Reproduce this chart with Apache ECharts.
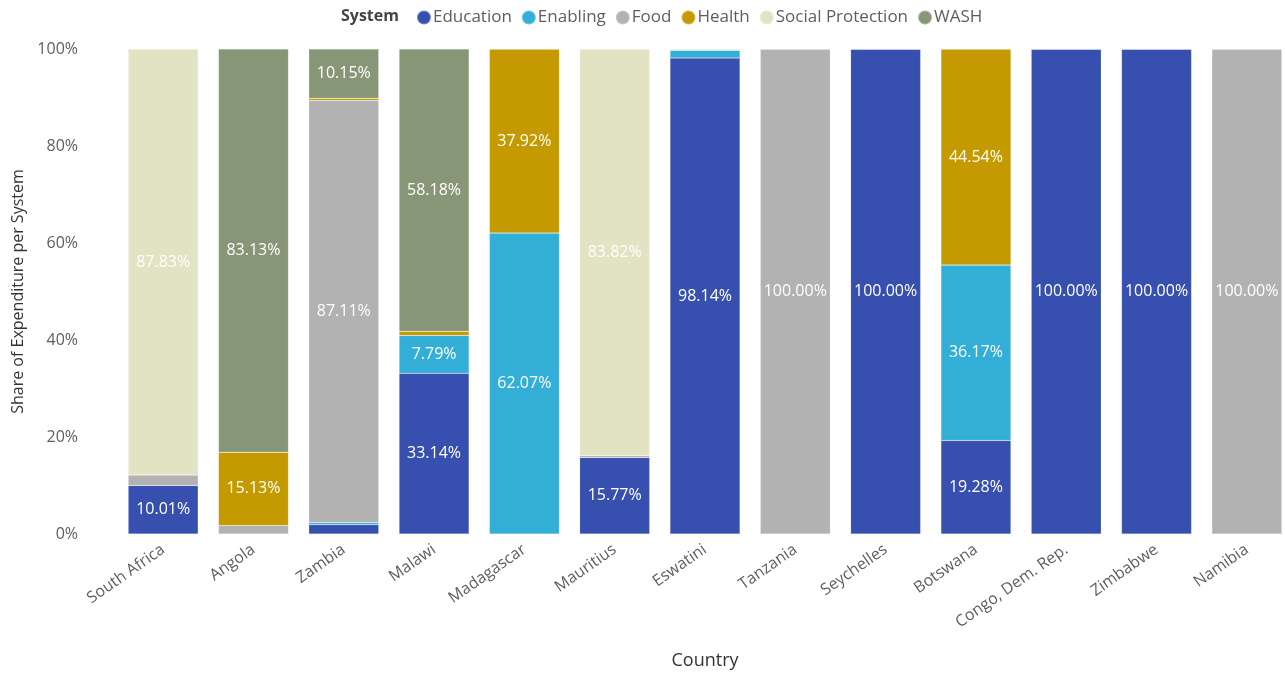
<!DOCTYPE html>
<html>
<head>
<meta charset="utf-8">
<script src="https://cdn.jsdelivr.net/npm/echarts@6/dist/echarts.min.js"></script>
<style>
  html, body { margin: 0; padding: 0; background: #ffffff; }
  #chart { width: 1285px; height: 675px; }
</style>
</head>
<body>
<div id="chart"></div>
<script>
// Countries along the x axis
const countries = ['South Africa', 'Angola', 'Zambia', 'Malawi', 'Madagascar', 'Mauritius',
  'Eswatini', 'Tanzania', 'Seychelles', 'Botswana', 'Congo, Dem. Rep.', 'Zimbabwe', 'Namibia'];

// Share of expenditure (%) per system, one array per system
const education        = [10.01, 0,     1.90,  33.14, 0,     15.77, 98.14, 0,      100.00, 19.28, 100.00, 100.00, 0];
const enabling         = [0,     0,     0.40,  7.79,  62.07, 0,     1.60,  0,      0,      36.17, 0,      0,      0];
const food             = [2.16,  1.74,  87.11, 0,     0,     0.41,  0,     100.00, 0,      0,     0,      0,      100.00];
const health           = [0,     15.13, 0.44,  0.89,  37.92, 0,     0,     0,      0,      44.54, 0,      0,      0];
const socialProtection = [87.83, 0,     0,     0,     0,     83.82, 0.26,  0,      0,      0,     0,      0,      0];
const wash             = [0,     83.13, 10.15, 58.18, 0,     0,     0,     0,      0,      0,     0,      0,      0];

const yTicks = [0, 20, 40, 60, 80, 100];

const systems = [
  { name: 'Education',         data: education,        color: '#3750AF' },
  { name: 'Enabling',          data: enabling,         color: '#33AFD7' },
  { name: 'Food',              data: food,             color: '#B2B2B2' },
  { name: 'Health',            data: health,           color: '#C49A00' },
  { name: 'Social Protection', data: socialProtection, color: '#E2E3C2' },
  { name: 'WASH',              data: wash,             color: '#879677' }
];

const FONT = 'Open Sans';
const chart = echarts.init(document.getElementById('chart'), null, { renderer: 'canvas' });

chart.setOption({
  animation: false,
  textStyle: { fontFamily: FONT },
  title: {
    text: 'System',
    left: 336, top: 3,
    textStyle: { fontFamily: FONT, fontSize: 16, fontWeight: 'bold', color: '#444444' }
  },
  legend: {
    left: 411, top: 4,
    icon: 'circle',
    itemWidth: 14, itemHeight: 14, itemGap: 9,
    textStyle: { fontFamily: FONT, fontSize: 17, color: '#605E5C', padding: [0, 0, 0, -3] },
    data: systems.map(s => s.name)
  },
  grid: { left: 118, top: 49, width: 1174, height: 485, outerBoundsMode: 'none', containLabel: false },
  xAxis: {
    type: 'category',
    data: countries,
    name: 'Country',
    nameLocation: 'middle',
    nameGap: 118,
    nameTextStyle: { fontFamily: FONT, fontSize: 18, color: '#333333' },
    axisLine: { show: false },
    axisTick: { show: false },
    axisLabel: { rotate: 35, fontSize: 16, color: '#605E5C', margin: 14, interval: 0 }
  },
  yAxis: {
    type: 'value',
    min: 0, max: 100, interval: 20,
    name: 'Share of Expenditure per System',
    nameLocation: 'middle',
    nameGap: 90,
    nameTextStyle: { fontFamily: FONT, fontSize: 16, color: '#333333' },
    splitLine: { show: false },
    axisLine: { show: false },
    axisTick: { show: false },
    axisLabel: {
      fontSize: 16, color: '#605E5C', margin: 40,
      formatter: v => (yTicks.includes(v) ? v + '%' : '')
    }
  },
  series: systems.map(s => ({
    name: s.name,
    type: 'bar',
    stack: 'share',
    barCategoryGap: '22.5%',
    itemStyle: { color: s.color, borderColor: 'rgba(255,255,255,0.3)', borderWidth: 0.5 },
    label: {
      show: true,
      position: 'inside',
      color: '#FFFFFF',
      fontSize: 16,
      fontFamily: FONT,
      formatter: p => (p.value >= 5 ? p.value.toFixed(2) + '%' : '')
    },
    data: s.data
  }))
});
</script>
</body>
</html>
